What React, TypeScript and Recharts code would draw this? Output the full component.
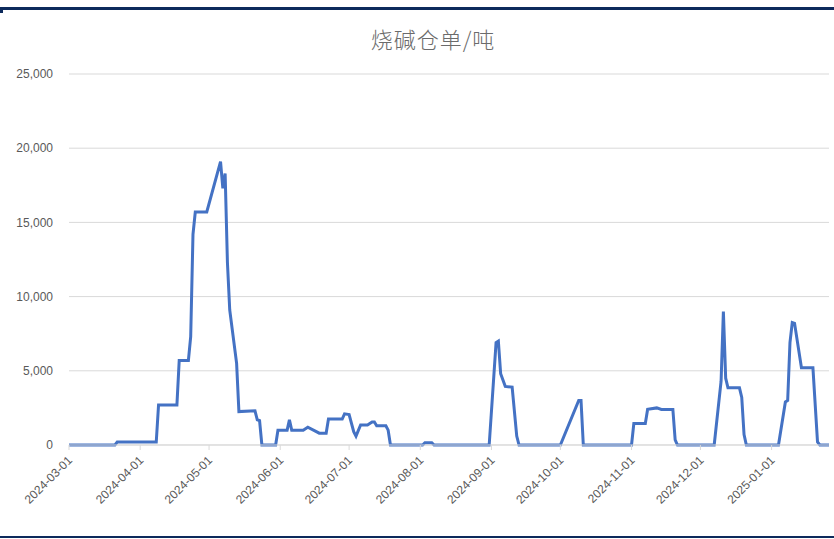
import React from 'react'
import { LineChart, Line, XAxis, YAxis, CartesianGrid } from 'recharts'

// 烧碱仓单 (吨) — dates where the series changes
const dates = [
  '2024-03-01', '2024-03-21', '2024-03-22', '2024-04-08', '2024-04-09', '2024-04-17', '2024-04-18',
  '2024-04-22', '2024-04-23', '2024-04-24', '2024-04-25', '2024-04-30', '2024-05-06', '2024-05-07',
  '2024-05-08', '2024-05-09', '2024-05-10', '2024-05-13', '2024-05-14', '2024-05-21', '2024-05-22',
  '2024-05-23', '2024-05-24', '2024-05-30', '2024-05-31', '2024-06-04', '2024-06-05', '2024-06-06',
  '2024-06-11', '2024-06-13', '2024-06-18', '2024-06-21', '2024-06-22', '2024-06-28', '2024-06-29',
  '2024-07-01', '2024-07-03', '2024-07-04', '2024-07-06', '2024-07-09', '2024-07-11', '2024-07-12',
  '2024-07-13', '2024-07-17', '2024-07-18', '2024-07-19', '2024-08-02', '2024-08-03', '2024-08-06',
  '2024-08-07', '2024-08-31', '2024-09-03', '2024-09-04', '2024-09-05', '2024-09-07', '2024-09-10',
  '2024-09-12', '2024-09-13', '2024-10-01', '2024-10-09', '2024-10-10', '2024-10-11', '2024-11-01',
  '2024-11-02', '2024-11-07', '2024-11-08', '2024-11-12', '2024-11-14', '2024-11-19', '2024-11-20',
  '2024-11-21', '2024-12-07', '2024-12-10', '2024-12-11', '2024-12-12', '2024-12-13', '2024-12-18',
  '2024-12-19', '2024-12-20', '2024-12-21', '2025-01-04', '2025-01-07', '2025-01-08', '2025-01-09',
  '2025-01-10', '2025-01-11', '2025-01-14', '2025-01-19', '2025-01-21', '2025-01-22', '2025-01-26',
]
const values = [
  0, 0, 200, 200, 2700, 2700, 5700,
  5700, 7300, 14200, 15700, 15700, 19100, 17300,
  18300, 12300, 9100, 5500, 2250, 2300, 1700,
  1650, 0, 0, 1000, 1000, 1700, 1000,
  1000, 1200, 800, 800, 1750, 1750, 2100,
  2050, 900, 600, 1350, 1350, 1550, 1550,
  1300, 1300, 1000, 0, 0, 150, 150,
  0, 0, 6900, 7000, 4800, 3950, 3900,
  600, 0, 0, 3000, 3000, 0, 0,
  1450, 1450, 2400, 2500, 2400, 2400, 350,
  0, 0, 4300, 9000, 4500, 3850, 3850,
  3200, 700, 0, 0, 2900, 3000, 6900,
  8250, 8200, 5200, 5200, 200, 0, 0,
]
const xTicks = [
  '2024-03-01', '2024-04-01', '2024-05-01', '2024-06-01', '2024-07-01', '2024-08-01',
  '2024-09-01', '2024-10-01', '2024-11-01', '2024-12-01', '2025-01-01',
]
const yTicks = [0, 5000, 10000, 15000, 20000, 25000]

const START = Date.UTC(2024, 2, 1)
const toDay = (s: string) => {
  const [y, m, d] = s.split('-').map(Number)
  return Math.round((Date.UTC(y, m - 1, d) - START) / 86400000)
}
const dayLabel = (day: number) => xTicks.find((t) => toDay(t) === day) || ''

const data = dates.map((d, i) => ({ day: toDay(d), value: values[i] }))

const XTick = (props: any) => {
  const { x, y, payload } = props
  return (
    <text
      transform={`translate(${x + 1},${y + 6}) rotate(-45)`}
      textAnchor="end"
      dy="0.35em"
      fill="#595959"
      fontSize={12}
      fontFamily="'Liberation Sans', Arial, sans-serif"
    >
      {dayLabel(payload.value)}
    </text>
  )
}

export default function App() {
  return (
    <div style={{ position: 'absolute', left: 0, top: 0, width: 834, height: 539, background: '#fff' }}>
      <div style={{ position: 'absolute', left: 0, top: 7, width: 834, height: 3, background: '#0d2a5c' }} />
      <div style={{ position: 'absolute', left: 0, top: 10, width: 3, height: 3, background: '#0d2a5c' }} />
      <div style={{ position: 'absolute', left: 0, top: 536, width: 834, height: 2, background: '#0d2a5c' }} />
      <div
        style={{
          position: 'absolute',
          left: 0,
          top: 24,
          width: 866,
          textAlign: 'center',
          fontSize: 22,
          letterSpacing: 1,
          color: '#6b6b6b',
          fontFamily: "'Noto Sans CJK SC', sans-serif",
          fontWeight: 300,
          lineHeight: '28px',
        }}
      >
        烧碱仓单/吨
      </div>
      <LineChart
        width={834}
        height={539}
        data={data}
        margin={{ top: 74, right: 5, bottom: 0, left: 0 }}
        style={{ position: 'absolute', left: 0, top: 0 }}
      >
        <CartesianGrid vertical={false} stroke="#d9d9d9" />
        <XAxis
          dataKey="day"
          type="number"
          domain={[0, 331]}
          ticks={xTicks.map(toDay)}
          interval={0}
          height={94}
          axisLine={{ stroke: '#d9d9d9' }}
          tickLine={{ stroke: '#d9d9d9' }}
          tickSize={5}
          tick={<XTick />}
        />
        <YAxis
          domain={[0, 25000]}
          ticks={yTicks}
          width={69}
          axisLine={false}
          tickLine={false}
          tickMargin={10}
          tickFormatter={(v: number) => v.toLocaleString('en-US')}
          tick={{ fill: '#595959', fontSize: 12, fontFamily: "'Liberation Sans', Arial, sans-serif" }}
        />
        <Line
          dataKey="value"
          type="linear"
          stroke="#4472c4"
          strokeWidth={3}
          dot={false}
          isAnimationActive={false}
        />
      </LineChart>
    </div>
  )
}
